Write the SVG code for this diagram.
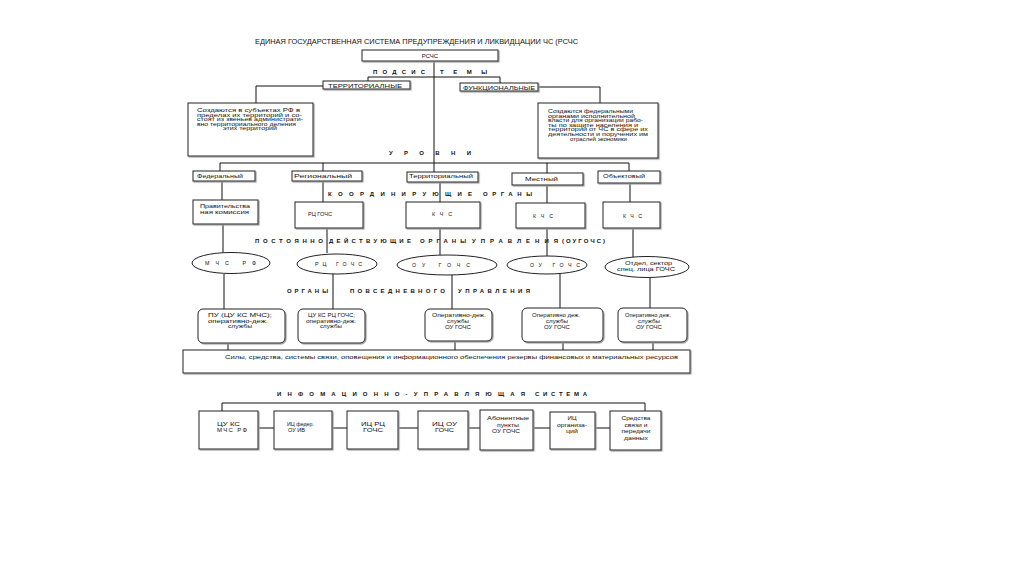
<svg xmlns="http://www.w3.org/2000/svg" width="1024" height="576" viewBox="0 0 1024 576">
<defs>
<filter id="sh" x="-10%" y="-10%" width="130%" height="140%"><feDropShadow dx="1.1" dy="1.1" stdDeviation="0.2" flood-color="#999" flood-opacity="1"/></filter>
<style>
.b{fill:#fff;stroke:#222;stroke-width:1;filter:url(#sh)}
.e{fill:#fff;stroke:#222;stroke-width:1}
.c line,.c polyline{stroke:#111;stroke-width:1;fill:none}
text{font-family:"Liberation Sans",Arial,sans-serif;fill:#111}
.s{font-size:5.3px}
.i{font-size:6px}
.m{font-size:6px}
.h{font-size:6px;font-weight:bold}
.t{font-size:6.6px}
.mid{text-anchor:middle}
</style>
</defs>
<rect width="1024" height="576" fill="#fff"/>
<text id="title" class="t" x="255" y="43.5" textLength="323" lengthAdjust="spacingAndGlyphs">ЕДИНАЯ ГОСУДАРСТВЕННАЯ СИСТЕМА ПРЕДУПРЕЖДЕНИЯ И ЛИКВИДЦАЦИИ ЧС (РСЧС</text>

<g id="connectors" class="c">
<line x1="434" y1="61" x2="434" y2="172"/>
<line x1="368" y1="77" x2="500" y2="77"/>
<line x1="368" y1="77" x2="368" y2="81"/>
<line x1="500" y1="77" x2="500" y2="83"/>
<polyline points="323,86 256,86 256,103"/>
<polyline points="538,87 600,87 600,103"/>
<line x1="220" y1="163" x2="629" y2="163"/>
<line x1="220" y1="163" x2="220" y2="171"/>
<line x1="323" y1="163" x2="323" y2="171"/>
<line x1="547" y1="163" x2="547" y2="173"/>
<line x1="629" y1="163" x2="629" y2="171"/>
<line x1="222" y1="181" x2="222" y2="200"/>
<line x1="223" y1="224" x2="223" y2="253"/>
<line x1="224" y1="274" x2="224" y2="309"/>
<line x1="228" y1="343" x2="228" y2="350"/>
<line x1="323" y1="181" x2="323" y2="202"/>
<line x1="327" y1="228" x2="327" y2="253"/>
<line x1="333" y1="273" x2="333" y2="309"/>
<line x1="440" y1="182" x2="440" y2="202"/>
<line x1="440" y1="228" x2="440" y2="255"/>
<line x1="452" y1="275" x2="452" y2="309"/>
<line x1="455" y1="342" x2="455" y2="350"/>
<line x1="547" y1="185" x2="547" y2="203"/>
<line x1="547" y1="228" x2="547" y2="256"/>
<line x1="560" y1="274" x2="560" y2="308"/>
<line x1="563" y1="342" x2="563" y2="350"/>
<line x1="630" y1="183" x2="630" y2="202"/>
<line x1="633" y1="228" x2="633" y2="257"/>
<line x1="650" y1="277" x2="650" y2="308"/>
<line x1="653" y1="342" x2="653" y2="350"/>
<line x1="222" y1="403" x2="645" y2="403"/>
<line x1="222" y1="403" x2="222" y2="411"/>
<line x1="645" y1="403" x2="645" y2="411"/>
<line x1="258" y1="428" x2="274" y2="428"/>
<line x1="332" y1="428" x2="347" y2="428"/>
<line x1="398" y1="428" x2="418" y2="428"/>
<line x1="468" y1="428" x2="480" y2="428"/>
<line x1="533" y1="428" x2="550" y2="428"/>
<line x1="595" y1="428" x2="610" y2="428"/>
</g>

<g id="headings">
<text class="h" x="373" y="73.5" textLength="52" lengthAdjust="spacing">ПОДСИС</text>
<text class="h" x="440" y="73.5" textLength="47" lengthAdjust="spacing">ТЕМЫ</text>
<text class="h" x="389" y="154.5" textLength="82" lengthAdjust="spacing">УРОВНИ</text>
<text class="h" x="328" y="195.5" textLength="144" lengthAdjust="spacing">КООРДИНИРУЮЩИЕ</text>
<text class="h" x="483" y="195.5" textLength="49" lengthAdjust="spacing">ОРГАНЫ</text>
<text class="h" x="255" y="242.5" textLength="68" lengthAdjust="spacing">ПОСТОЯННО</text>
<text class="h" x="329" y="242.5" textLength="82" lengthAdjust="spacing">ДЕЙСТВУЮЩИЕ</text>
<text class="h" x="420" y="242.5" textLength="46" lengthAdjust="spacing">ОРГАНЫ</text>
<text class="h" x="472" y="242.5" textLength="86" lengthAdjust="spacing">УПРАВЛЕНИЯ</text>
<text class="h" x="562" y="242.5" textLength="43" lengthAdjust="spacing">(ОУГОЧС)</text>
<text class="h" x="287" y="292.5" textLength="41" lengthAdjust="spacing">ОРГАНЫ</text>
<text class="h" x="350" y="292.5" textLength="95" lengthAdjust="spacing">ПОВСЕДНЕВНОГО</text>
<text class="h" x="458" y="292.5" textLength="72" lengthAdjust="spacing">УПРАВЛЕНИЯ</text>
<text class="h" x="277" y="395.5" textLength="248" lengthAdjust="spacing">ИНФОМАЦИОННО-УПРАВЛЯЮЩАЯ</text>
<text class="h" x="535" y="395.5" textLength="52" lengthAdjust="spacing">СИСТЕМА</text>
</g>

<g id="rschs"><rect class="b" x="362" y="50" width="136" height="11"/><text class="m mid" x="430" y="58">РСЧС</text></g>
<g id="terr"><rect class="b" x="323" y="81" width="87" height="8"/><text class="m" x="328" y="87.5" textLength="74" lengthAdjust="spacingAndGlyphs">ТЕРРИТОРИАЛНЫЕ</text></g>
<g id="func"><rect class="b" x="460" y="83" width="78" height="8"/><text class="m" x="463" y="89.5" textLength="72" lengthAdjust="spacingAndGlyphs">ФУНКЦИОНАЛЬНЫЕ</text></g>

<g id="terr-desc"><rect class="b" x="188" y="103" width="125" height="53"/>
<text class="s" x="197" y="112" textLength="103" lengthAdjust="spacingAndGlyphs">Создаются в субъектах РФ в</text>
<text class="s" x="197" y="116.5" textLength="105" lengthAdjust="spacingAndGlyphs">пределах их территорий и со-</text>
<text class="s" x="197" y="121" textLength="106" lengthAdjust="spacingAndGlyphs">стоят из звеньев администрати-</text>
<text class="s" x="197" y="125.5" textLength="99" lengthAdjust="spacingAndGlyphs">вно территориального деления</text>
<text class="s" x="223" y="130" textLength="54" lengthAdjust="spacingAndGlyphs">этих территорий</text>
</g>
<g id="func-desc"><rect class="b" x="538" y="103" width="120" height="55"/>
<text class="s" x="548" y="113" textLength="85" lengthAdjust="spacingAndGlyphs">Создаются федеральными</text>
<text class="s" x="548" y="117.5" textLength="87" lengthAdjust="spacingAndGlyphs">органами исполнительной</text>
<text class="s" x="548" y="122" textLength="95" lengthAdjust="spacingAndGlyphs">власти для организации рабо-</text>
<text class="s" x="548" y="126.5" textLength="90" lengthAdjust="spacingAndGlyphs">ты по защите населения и</text>
<text class="s" x="548" y="131" textLength="100" lengthAdjust="spacingAndGlyphs">территорий от ЧС в сфере их</text>
<text class="s" x="548" y="135.5" textLength="100" lengthAdjust="spacingAndGlyphs">деятельности и поручених им</text>
<text class="s" x="570" y="140.5" textLength="57" lengthAdjust="spacingAndGlyphs">отраслей экономики</text>
</g>

<g id="lvl-fed"><rect class="b" x="193" y="171" width="62" height="10"/><text class="s" x="197" y="177.5" textLength="46" lengthAdjust="spacingAndGlyphs">Федеральный</text></g>
<g id="lvl-reg"><rect class="b" x="292" y="171" width="70" height="10"/><text class="s" x="294" y="177.5" textLength="58" lengthAdjust="spacingAndGlyphs">Региональный</text></g>
<g id="lvl-terr"><rect class="b" x="407" y="172" width="71" height="10"/><text class="s" x="409" y="178" textLength="64" lengthAdjust="spacingAndGlyphs">Территориальный</text></g>
<g id="lvl-mest"><rect class="b" x="512" y="173" width="71" height="12"/><text class="s" x="525" y="180.5" textLength="33" lengthAdjust="spacingAndGlyphs">Местный</text></g>
<g id="lvl-obj"><rect class="b" x="598" y="171" width="62" height="12"/><text class="s" x="603" y="178" textLength="42" lengthAdjust="spacingAndGlyphs">Объектовый</text></g>

<g id="kor-fed"><rect class="b" x="193" y="200" width="65" height="24"/>
<text class="s" x="200" y="208" textLength="50" lengthAdjust="spacingAndGlyphs">Правительства</text>
<text class="s" x="200" y="214" textLength="49" lengthAdjust="spacingAndGlyphs">ная комиссия</text></g>
<g id="kor-reg"><rect class="b" x="295" y="202" width="68" height="26"/><text class="s" x="308" y="216" textLength="24" lengthAdjust="spacingAndGlyphs">РЦ ГОЧС</text></g>
<g id="kor-terr"><rect class="b" x="406" y="202" width="74" height="26"/><text class="s" x="432" y="216" textLength="20" lengthAdjust="spacing">КЧС</text></g>
<g id="kor-mest"><rect class="b" x="516" y="203" width="69" height="25"/><text class="s" x="533" y="218" textLength="20" lengthAdjust="spacing">КЧС</text></g>
<g id="kor-obj"><rect class="b" x="603" y="202" width="57" height="26"/><text class="s" x="623" y="218" textLength="19" lengthAdjust="spacing">КЧС</text></g>

<g id="pdo-fed"><ellipse class="e" cx="231" cy="263" rx="39" ry="10.5"/><text class="s" x="205" y="264.5" textLength="51" lengthAdjust="spacing">МЧС РФ</text></g>
<g id="pdo-reg"><ellipse class="e" cx="337" cy="264" rx="40" ry="10"/><text class="s" x="315" y="265.5" textLength="47" lengthAdjust="spacing">РЦ ГОЧС</text></g>
<g id="pdo-terr"><ellipse class="e" cx="447" cy="265" rx="50" ry="10"/><text class="s" x="412" y="267" textLength="58" lengthAdjust="spacing">ОУ ГОЧС</text></g>
<g id="pdo-mest"><ellipse class="e" cx="547" cy="265" rx="40" ry="9"/><text class="s" x="530" y="267" textLength="50" lengthAdjust="spacing">ОУ ГОЧС</text></g>
<g id="pdo-obj"><ellipse class="e" cx="647" cy="267" rx="42" ry="10.5"/>
<text class="s" x="625" y="265" textLength="47" lengthAdjust="spacingAndGlyphs">Отдел, сектор</text>
<text class="s" x="617" y="271" textLength="58" lengthAdjust="spacingAndGlyphs">спец. лица ГОЧС</text></g>

<g id="opu-fed"><rect class="b" x="198" y="309" width="87" height="34" rx="5"/>
<text class="s" x="208" y="317" textLength="64" lengthAdjust="spacingAndGlyphs">ПУ  (ЦУ КС МЧС);</text>
<text class="s" x="208" y="322.5" textLength="60" lengthAdjust="spacingAndGlyphs">оперативно-деж.</text>
<text class="s mid" x="240" y="328" textLength="24" lengthAdjust="spacingAndGlyphs">службы</text></g>
<g id="opu-reg"><rect class="b" x="298" y="309" width="67" height="34" rx="5"/>
<text class="s" x="308" y="317" textLength="47" lengthAdjust="spacingAndGlyphs">ЦУ КС РЦ ГОЧС;</text>
<text class="s" x="306" y="322.5" textLength="50" lengthAdjust="spacingAndGlyphs">оперативно-деж.</text>
<text class="s mid" x="331" y="328" textLength="22" lengthAdjust="spacingAndGlyphs">службы</text></g>
<g id="opu-terr"><rect class="b" x="425" y="309" width="67" height="32" rx="5"/>
<text class="s" x="432" y="317" textLength="54" lengthAdjust="spacingAndGlyphs">Оперативно-деж.</text>
<text class="s mid" x="458" y="323" textLength="22" lengthAdjust="spacingAndGlyphs">службы</text>
<text class="s mid" x="458" y="329" textLength="26" lengthAdjust="spacingAndGlyphs">ОУ ГОЧС</text></g>
<g id="opu-mest"><rect class="b" x="522" y="308" width="81" height="34" rx="5"/>
<text class="s" x="532" y="317" textLength="48" lengthAdjust="spacingAndGlyphs">Оперативно деж.</text>
<text class="s mid" x="557" y="323" textLength="22" lengthAdjust="spacingAndGlyphs">службы</text>
<text class="s mid" x="557" y="329" textLength="26" lengthAdjust="spacingAndGlyphs">ОУ ГОЧС</text></g>
<g id="opu-obj"><rect class="b" x="618" y="308" width="69" height="34" rx="5"/>
<text class="s" x="625" y="317" textLength="46" lengthAdjust="spacingAndGlyphs">Оперативно деж.</text>
<text class="s mid" x="649" y="323" textLength="22" lengthAdjust="spacingAndGlyphs">службы</text>
<text class="s mid" x="649" y="329" textLength="26" lengthAdjust="spacingAndGlyphs">ОУ ГОЧС</text></g>

<g id="sily"><rect class="b" x="183" y="350" width="507" height="23"/>
<text class="s" x="225" y="359" textLength="453" lengthAdjust="spacingAndGlyphs">Силы, средства, системы связи, оповещения и  информационного обеспечения резервы финансовых и материальных ресурсов</text></g>

<g id="is-1"><rect class="b" x="199" y="411" width="59" height="38"/>
<text class="i" x="217" y="425.5" textLength="23" lengthAdjust="spacingAndGlyphs">ЦУ КС</text>
<text class="i" x="217" y="432" textLength="30" lengthAdjust="spacing">МЧС РФ</text></g>
<g id="is-2"><rect class="b" x="274" y="411" width="58" height="38"/>
<text class="i" x="287" y="425.5" textLength="27" lengthAdjust="spacingAndGlyphs">ИЦ федер.</text>
<text class="i" x="288" y="432" textLength="17" lengthAdjust="spacingAndGlyphs">ОУ ИВ</text></g>
<g id="is-3"><rect class="b" x="347" y="411" width="51" height="38"/>
<text class="i" x="361" y="425.5" textLength="24" lengthAdjust="spacingAndGlyphs">ИЦ  РЦ</text>
<text class="i" x="363" y="432" textLength="20" lengthAdjust="spacingAndGlyphs">ГОЧС</text></g>
<g id="is-4"><rect class="b" x="418" y="411" width="50" height="38"/>
<text class="i" x="432" y="425.5" textLength="25" lengthAdjust="spacingAndGlyphs">ИЦ  ОУ</text>
<text class="i" x="435" y="432" textLength="19" lengthAdjust="spacingAndGlyphs">ГОЧС</text></g>
<g id="is-5"><rect class="b" x="480" y="410" width="53" height="40"/>
<text class="s" x="487" y="420" textLength="42" lengthAdjust="spacingAndGlyphs">Абонентные</text>
<text class="s mid" x="508" y="426.5" textLength="22" lengthAdjust="spacingAndGlyphs">пункты</text>
<text class="s mid" x="506" y="433" textLength="28" lengthAdjust="spacingAndGlyphs">ОУ ГОЧС</text></g>
<g id="is-6"><rect class="b" x="550" y="412" width="45" height="37"/>
<text class="s mid" x="572" y="420" textLength="9" lengthAdjust="spacingAndGlyphs">ИЦ</text>
<text class="s mid" x="572" y="426.5" textLength="30" lengthAdjust="spacingAndGlyphs">организа-</text>
<text class="s mid" x="572" y="433" textLength="12" lengthAdjust="spacingAndGlyphs">ций</text></g>
<g id="is-7"><rect class="b" x="610" y="411" width="51" height="39"/>
<text class="s mid" x="636" y="420" textLength="29" lengthAdjust="spacingAndGlyphs">Средства</text>
<text class="s mid" x="636" y="426.5" textLength="23" lengthAdjust="spacingAndGlyphs">связи и</text>
<text class="s mid" x="636" y="433" textLength="29" lengthAdjust="spacingAndGlyphs">передачи</text>
<text class="s mid" x="636" y="440" textLength="24" lengthAdjust="spacingAndGlyphs">данных</text></g>
</svg>
